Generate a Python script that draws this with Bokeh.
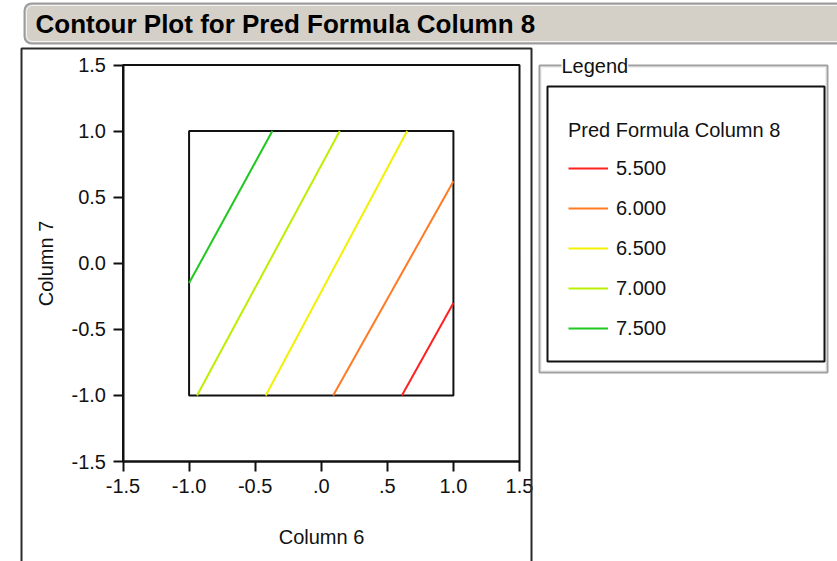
from bokeh.plotting import figure
from bokeh.models import (Range1d, FixedTicker, BoxAnnotation, Label, Legend, LegendItem, LinearAxis)
from bokeh.embed import file_html
from bokeh.resources import INLINE

# ---- data ----
title_text = "Contour Plot for Pred Formula Column 8"
x_label = "Column 6"
y_label = "Column 7"
legend_title = "Pred Formula Column 8"
levels = [5.5, 6.0, 6.5, 7.0, 7.5]
level_labels = ["5.500", "6.000", "6.500", "7.000", "7.500"]
level_colors = ["#ff2020", "#ff7a22", "#f2f200", "#bbf000", "#1ec81e"]
contour_x = [[0.61, 1.0], [0.09, 1.0], [-0.42, 0.65], [-0.94, 0.14], [-1.0, -0.37]]
contour_y = [[-1.0, -0.30], [-1.0, 0.62], [-1.0, 1.0], [-1.0, 1.0], [-0.15, 1.0]]
factor_lo = [-1.0]
factor_hi = [1.0]
ticks = [-1.5, -1.0, -0.5, 0.0, 0.5, 1.0, 1.5]
x_tick_labels = ["-1.5", "-1.0", "-0.5", ".0", ".5", "1.0", "1.5"]
y_tick_labels = ["-1.5", "-1.0", "-0.5", "0.0", "0.5", "1.0", "1.5"]

FONT = "Liberation Sans"
W, H = 837, 561
# pixel box of the plotting area (canvas coordinates, y down)
PL, PR, PT, PB = 122.5, 519.0, 64.5, 461.0
amin, amax = ticks[0], ticks[-1]
sx = (PR - PL) / (amax - amin)
sy = (PB - PT) / (amax - amin)
x_range = Range1d(amin - PL / sx, amax + (W - PR) / sx)
y_range = Range1d(amin - (H - PB) / sy, amax + PT / sy)

p = figure(width=W, height=H, output_backend="svg", toolbar_location=None,
           x_range=x_range, y_range=y_range, title=None,
           x_axis_type=None, y_axis_type=None, min_border=0)
p.grid.visible = False
p.outline_line_color = None
p.background_fill_color = "white"
p.border_fill_color = "white"

xaxis = LinearAxis(fixed_location=amin, bounds=(amin, amax), axis_label=x_label)
yaxis = LinearAxis(fixed_location=amin, bounds=(amin, amax), axis_label=y_label)
for ax, labels in ((xaxis, x_tick_labels), (yaxis, y_tick_labels)):
    ax.ticker = FixedTicker(ticks=ticks)
    ax.major_label_overrides = {t: l for t, l in zip(ticks, labels)}
    ax.minor_tick_line_color = None
    ax.major_tick_in = 0
    ax.major_tick_out = 10
    ax.major_tick_line_width = 2
    ax.major_tick_line_color = "#111111"
    ax.axis_line_width = 2
    ax.axis_line_color = "#111111"
    ax.major_label_text_font = FONT
    ax.major_label_text_font_size = "20px"
    ax.major_label_text_color = "#111111"
    ax.major_label_standoff = 7
    ax.axis_label_text_font = FONT
    ax.axis_label_text_font_size = "20px"
    ax.axis_label_text_font_style = "normal"
    ax.axis_label_text_color = "#111111"
xaxis.axis_label_standoff = 30
yaxis.axis_label_standoff = 12
p.add_layout(xaxis, "below")
p.add_layout(yaxis, "left")

# top / right edges of the plotting area
p.add_layout(BoxAnnotation(left=amin, right=amax, bottom=amin, top=amax,
                           fill_alpha=0, line_color="#111111", line_alpha=1, line_width=2))

# factor region box
p.quad(left=factor_lo, right=factor_hi, bottom=factor_lo, top=factor_hi,
       fill_color=None, line_color="#111111", line_width=2)

items = []
for xs, ys, lab, col in zip(contour_x, contour_y, level_labels, level_colors):
    r = p.line(xs, ys, line_color=col, line_width=2)
    items.append(LegendItem(label=lab, renderers=[r]))

def cbox(**kw):
    kw.setdefault("fill_alpha", 0)
    kw.setdefault("line_alpha", 1)
    return BoxAnnotation(left_units="canvas", right_units="canvas", top_units="canvas",
                         bottom_units="canvas", **kw)

# title bar
p.add_layout(cbox(left=24, right=870, top=3, bottom=43, fill_color="#d4d0c8", fill_alpha=1,
                  line_color="#9c9c9c", line_width=2, border_radius=7))
p.add_layout(cbox(left=26, right=868, top=5, bottom=41, line_color="#f4f4f4",
                  line_width=1, border_radius=6))
p.add_layout(Label(x=35, y=23, x_units="canvas", y_units="canvas", text=title_text,
                   text_font=FONT, text_font_style="bold", text_font_size="26px",
                   text_baseline="middle", text_color="black"))
# report panel
p.add_layout(cbox(left=21, right=531, top=48, bottom=640, line_color="#2a2a2a", line_width=2))
# legend group box (etched)
p.add_layout(cbox(left=539, right=827, top=65, bottom=372, line_color="#a0a0a0", line_width=2))
p.add_layout(cbox(left=541, right=825, top=67, bottom=370, line_color="#f0f0f0", line_width=1))
p.add_layout(Label(x=561, y=65, x_units="canvas", y_units="canvas", text="Legend",
                   text_font=FONT, text_font_size="20px", text_baseline="middle",
                   background_fill_color="white", text_color="#111111"))
p.add_layout(cbox(left=547, right=824, top=86, bottom=361, line_color="#111111", line_width=2))

legend = Legend(items=items, location=(564, 217), title=legend_title,
                title_text_font=FONT, title_text_font_size="20px", title_text_font_style="normal",
                title_text_color="#111111",
                title_standoff=14, label_text_font=FONT, label_text_font_size="20px",
                label_text_color="#111111",
                label_height=24, glyph_height=24, glyph_width=40, label_standoff=8,
                spacing=16, padding=4, border_line_alpha=0, background_fill_alpha=0)
p.add_layout(legend, "center")

open("out.html", "w").write(file_html(p, INLINE))
